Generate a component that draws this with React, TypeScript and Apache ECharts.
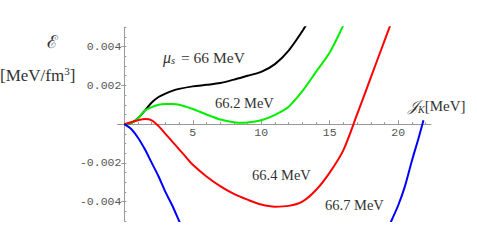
import React, { useEffect, useRef } from "react";
import * as echarts from "echarts";

// ---- data ----
const blackX = [0, 0.5, 1, 1.5, 2, 2.5, 3, 3.5, 4, 5, 6, 7, 8, 9, 10, 11, 12, 13, 13.5];
const blackY = [0, 0.00005, 0.0003, 0.0007, 0.00112, 0.0014, 0.00158, 0.00172, 0.00182, 0.00195, 0.00203, 0.00212, 0.0023, 0.0025, 0.0027, 0.0031, 0.0038, 0.0048, 0.0054];

const greenX = [0, 0.5, 1, 1.5, 2, 2.5, 3, 3.5, 4, 5, 6, 7, 8, 8.5, 9, 10, 11, 12, 13, 14, 15, 16, 16.5];
const greenY = [0, 0.00005, 0.0003, 0.0007, 0.00088, 0.001, 0.00104, 0.00104, 0.001, 0.00078, 0.0005, 0.00024, 0.0001, 0.00007, 0.00008, 0.0002, 0.00048, 0.0009, 0.0017, 0.0027, 0.0037, 0.0051, 0.0058];

const redX = [0, 0.5, 1, 1.5, 2, 2.5, 3, 3.5, 4, 4.5, 5, 6, 7, 8, 9, 10, 11, 12, 13, 14, 15, 16, 17, 18, 19, 20];
const redY = [0, 0.0001, 0.0002, 0.00026, 0.0002, -0.0001, -0.0005, -0.0009, -0.0013, -0.0017, -0.0021, -0.0027, -0.0032, -0.0036, -0.0039, -0.00415, -0.00426, -0.00422, -0.004, -0.0034, -0.0025, -0.00134, 0.0005, 0.0024, 0.0043, 0.0062];

const blueX = [0, 0.5, 1, 1.5, 2, 2.5, 3, 3.5, 4, 4.5, 5, 6, 8, 10, 12, 14, 16, 18, 19, 19.5, 20, 20.5, 21, 21.5, 21.85];
const blueY = [0, -0.00025, -0.0007, -0.0013, -0.002, -0.0027, -0.0035, -0.0042, -0.005, -0.0058, -0.0066, -0.008, -0.0102, -0.0113, -0.0116, -0.011, -0.0095, -0.0074, -0.0058, -0.005, -0.0042, -0.0032, -0.0019, -0.0007, 0.0002];

const majorX = [5, 10, 15, 20];
const minorX = [1, 2, 3, 4, 5, 6, 7, 8, 9, 10, 11, 12, 13, 14, 15, 16, 17, 18, 19, 20, 21, 22];
const majorY = [-0.004, -0.002, 0.002, 0.004];
const minorY = [-0.005, -0.0045, -0.004, -0.0035, -0.003, -0.0025, -0.002, -0.0015, -0.001, -0.0005, 0.0005, 0.001, 0.0015, 0.002, 0.0025, 0.003, 0.0035, 0.004, 0.0045, 0.005];

const curveLabels = ["66.2 MeV", "66.4 MeV", "66.7 MeV"];

const zip = (xs: number[], ys: number[]) => xs.map((x, i) => [x, ys[i]]);

const AXIS = "#999";
const LABEL = "#555";
const TEXT = "#333";
const SERIF = "'Liberation Serif', 'DejaVu Serif', serif";
const MONO = "'Liberation Mono', 'DejaVu Sans Mono', monospace";

const GRID = { left: 117.5, right: 46, top: 27.3, bottom: 29 };
const X_MIN = -0.5;
const X_MAX = 22.4;
const Y_MIN = -0.005;
const Y_MAX = 0.005;

export default function App() {
  const ref = useRef<HTMLDivElement>(null);
  useEffect(() => {
    document.body.style.margin = "0";
    if (!ref.current) return;
    const chart = echarts.init(ref.current, undefined, { renderer: "svg" });
    const W = 477;
    const H = 250;
    const gw = W - GRID.left - GRID.right;
    const gh = H - GRID.top - GRID.bottom;
    // offsets that put the second (major-tick) axes on the zero lines
    const xOff = -gh * (0 - Y_MIN) / (Y_MAX - Y_MIN);
    const yOff = -gw * (0 - X_MIN) / (X_MAX - X_MIN);
    const xBase = { type: "value", min: X_MIN, max: X_MAX, position: "bottom", splitLine: { show: false } };
    const yBase = { type: "value", min: Y_MIN, max: Y_MAX, position: "left", splitLine: { show: false } };
    const line = (name: string, data: number[][], color: string) => ({
      name,
      type: "line",
      data,
      showSymbol: false,
      symbol: "none",
      smooth: 0.3,
      clip: true,
      lineStyle: { color, width: 2 },
      xAxisIndex: 0,
      yAxisIndex: 0,
    });
    chart.setOption({
      animation: false,
      grid: { ...GRID, containLabel: false },
      xAxis: [
        {
          ...xBase,
          axisLine: { show: true, onZero: true, lineStyle: { color: AXIS, width: 1 } },
          axisTick: { show: true, inside: true, length: 2, customValues: minorX, lineStyle: { color: AXIS } },
          axisLabel: { show: false },
        },
        {
          ...xBase,
          offset: xOff,
          axisLine: { show: false, onZero: false },
          axisTick: { show: true, inside: true, length: 4, customValues: majorX, lineStyle: { color: AXIS } },
          axisLabel: { show: true, customValues: majorX, margin: 2, color: LABEL, fontFamily: MONO, fontSize: 11.5 },
        },
      ],
      yAxis: [
        {
          ...yBase,
          axisLine: { show: true, onZero: true, lineStyle: { color: AXIS, width: 1 } },
          axisTick: { show: true, inside: true, length: 2, customValues: minorY, lineStyle: { color: AXIS } },
          axisLabel: { show: false },
        },
        {
          ...yBase,
          offset: yOff,
          axisLine: { show: false, onZero: false },
          axisTick: { show: true, inside: false, length: 3, customValues: majorY, lineStyle: { color: AXIS } },
          axisLabel: { show: true, customValues: majorY, margin: 3, color: LABEL, fontFamily: MONO, fontSize: 11.5 },
        },
      ],
      series: [
        line("66", zip(blackX, blackY), "#000000"),
        line("66.2", zip(greenX, greenY), "#00ee00"),
        line("66.4", zip(redX, redY), "#ff0000"),
        line("66.7", zip(blueX, blueY), "#0000ff"),
      ],
      graphic: [
        {
          type: "text", x: 47, y: 42,
          style: { text: "ℰ", fontFamily: SERIF, fontSize: 18, fill: TEXT, verticalAlign: "middle" },
        },
        {
          type: "text", x: 0, y: 75,
          style: {
            text: "[MeV/fm{sup|3}]", fontFamily: SERIF, fontSize: 17, fill: TEXT, verticalAlign: "middle",
            rich: { sup: { fontSize: 11, fontFamily: SERIF, fill: TEXT, verticalAlign: "top", padding: [0, 0, 8, 0] } },
          },
        },
        {
          type: "text", x: 408, y: 106,
          style: {
            text: "{j|𝒥}{sub|K}[MeV]", fontFamily: SERIF, fontSize: 15, fill: TEXT, verticalAlign: "middle",
            rich: {
              j: { fontSize: 15, fontFamily: SERIF, fontStyle: "italic", fill: TEXT },
              sub: { fontSize: 10, fontFamily: SERIF, fontStyle: "italic", fill: TEXT, verticalAlign: "bottom", padding: [6, 0, 0, 0] },
            },
          },
        },
        {
          type: "text", x: 163, y: 57,
          style: {
            text: "{i|μ}{sub|s} = 66 MeV", fontFamily: SERIF, fontSize: 15.5, fill: TEXT, verticalAlign: "middle",
            rich: {
              i: { fontSize: 16, fontFamily: SERIF, fontStyle: "italic", fill: TEXT },
              sub: { fontSize: 10.5, fontFamily: SERIF, fontStyle: "italic", fill: TEXT, verticalAlign: "bottom", padding: [6, 2, 0, 0] },
            },
          },
        },
        { type: "text", x: 215, y: 103, style: { text: curveLabels[0], fontFamily: SERIF, fontSize: 14.5, fill: TEXT, verticalAlign: "middle" } },
        { type: "text", x: 252, y: 175, style: { text: curveLabels[1], fontFamily: SERIF, fontSize: 14.5, fill: TEXT, verticalAlign: "middle" } },
        { type: "text", x: 325, y: 205, style: { text: curveLabels[2], fontFamily: SERIF, fontSize: 14.5, fill: TEXT, verticalAlign: "middle" } },
      ],
    });
    return () => chart.dispose();
  }, []);
  return <div ref={ref} style={{ width: 477, height: 250 }} />;
}
